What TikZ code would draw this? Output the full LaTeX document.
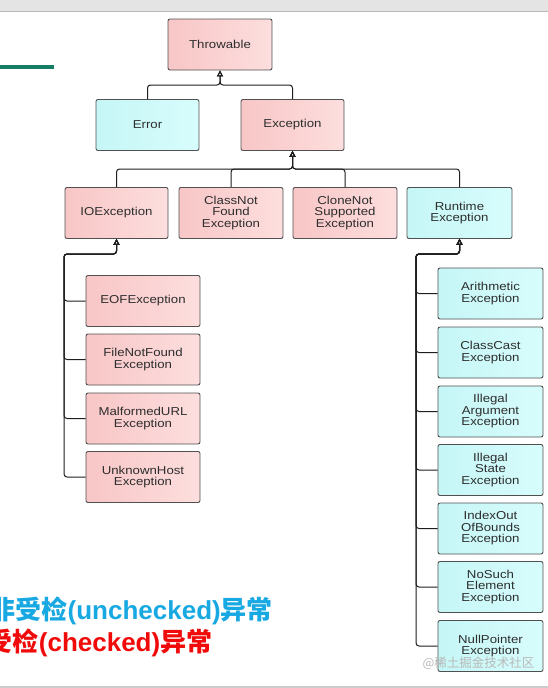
\documentclass[tikz,border=0pt]{standalone}
\usepackage{fontspec}
\setmainfont{Liberation Sans}
\newfontfamily\boxfont[FakeStretch=1.15]{Liberation Sans}
\newfontfamily\cjk{Noto Sans CJK SC}
\usetikzlibrary{arrows.meta}
\definecolor{pinkL}{RGB}{248,198,198}
\definecolor{pinkR}{RGB}{253,222,222}
\definecolor{cyanL}{RGB}{198,246,246}
\definecolor{cyanR}{RGB}{216,252,252}
\definecolor{boxline}{RGB}{80,80,80}
\definecolor{txt}{RGB}{45,45,45}
\definecolor{linec}{RGB}{30,30,30}
\definecolor{uncblue}{RGB}{24,168,226}
\definecolor{chkred}{RGB}{240,10,10}
\definecolor{greenline}{RGB}{20,125,100}
\definecolor{barc}{RGB}{228,228,228}
\tikzset{
  box/.style={draw=boxline, line width=0.9pt, rounded corners=2pt, align=center,
    font=\boxfont\fontsize{11.5}{11.5}\selectfont, text=txt, inner sep=0pt,
    minimum height=51pt},
  chk/.style={box, left color=pinkL, right color=pinkR},
  unc/.style={box, left color=cyanL, right color=cyanR},
  conn/.style={draw=linec, line width=1pt, rounded corners=3pt},
  arr/.style={conn, -{Triangle[open, length=6pt, width=6pt]}},
  legend/.style={anchor=base east, inner sep=0pt, font=\fontsize{26}{26}\selectfont\bfseries}
}
\begin{document}
\begin{tikzpicture}[x=1pt, y=-1pt]
\useasboundingbox (0,0) rectangle (548,688);
\clip (0,0) rectangle (548,688);
\fill[white] (0,0) rectangle (548,688);
% top bar and bottom line
\fill[barc] (0,0) rectangle (548,11.5);
\draw[gray!55, line width=0.6pt] (0,11.5) -- (548,11.5);
\fill[gray!40] (0,686) rectangle (548,688);
\fill[greenline] (0,64.5) rectangle (54,68.5);

% nodes
\node[chk, minimum width=104pt] (thr) at (220,44.5) {Throwable};
\node[unc, minimum width=103pt] (err) at (147.5,125) {Error};
\node[chk, minimum width=103pt] (exc) at (292.5,125) {Exception};

\node[chk, minimum width=103pt] (io)  at (116.5,213) {IOException};
\node[chk, minimum width=104pt] (cnf) at (231,213) {ClassNot\\Found\\Exception};
\node[chk, minimum width=104pt] (cln) at (345,213) {CloneNot\\Supported\\Exception};
\node[unc, minimum width=105pt] (rt)  at (459.5,213) {Runtime\\Exception};

\node[chk, minimum width=114pt] (eof) at (143,301) {EOFException};
\node[chk, minimum width=114pt] (fnf) at (143,359.5) {FileNotFound\\Exception};
\node[chk, minimum width=114pt] (mal) at (143,418.5) {MalformedURL\\Exception};
\node[chk, minimum width=114pt] (unk) at (143,477) {UnknownHost\\Exception};

\node[unc, minimum width=105pt] (ari)  at (490.5,293.5) {Arithmetic\\Exception};
\node[unc, minimum width=105pt] (cc)   at (490.5,352.5) {ClassCast\\Exception};
\node[unc, minimum width=105pt] (ia)   at (490.5,411.5) {Illegal\\Argument\\Exception};
\node[unc, minimum width=105pt] (is)   at (490.5,470) {Illegal\\State\\Exception};
\node[unc, minimum width=105pt] (ioob) at (490.5,528.5) {IndexOut\\OfBounds\\Exception};
\node[unc, minimum width=105pt] (ns)   at (490.5,587) {NoSuch\\Element\\Exception};
\node[unc, minimum width=105pt] (np)   at (490.5,646) {NullPointer\\Exception};

% junctions
\coordinate (j1) at (220,85);
\coordinate (j2) at (292.5,169);
\coordinate (ioj) at (116.5,254);
\coordinate (iol) at (64,254);
\coordinate (rtj) at (459.5,254);
\coordinate (rtl) at (416,254);

% connectors
\foreach \c in {err,exc} \draw[arr] (\c.north) |- (j1) -- (thr.south);
\foreach \c in {io,cnf,cln,rt} \draw[arr] (\c.north) |- (j2) -- (exc.south);
\foreach \c in {eof,fnf,mal,unk} \draw[arr] (\c.west) -| (iol) -- (ioj) -- (io.south);
\foreach \c in {ari,cc,ia,is,ioob,ns,np} \draw[arr] (\c.west) -| (rtl) -- (rtj) -- (rt.south);

% legend
\node[legend, text=uncblue] (l1) at (273,619) {\cjk 非受检\rmfamily(unchecked)\cjk 异常};
\node[legend, text=chkred] (l2) at (212.5,651) {\cjk 受检\rmfamily(checked)\cjk 异常};

% watermark
\node[text=gray!55, font=\cjk\fontsize{12.5}{12.5}\selectfont, inner sep=0pt] (wm) at (478.5,663) {@稀土掘金技术社区};
\end{tikzpicture}
\end{document}
